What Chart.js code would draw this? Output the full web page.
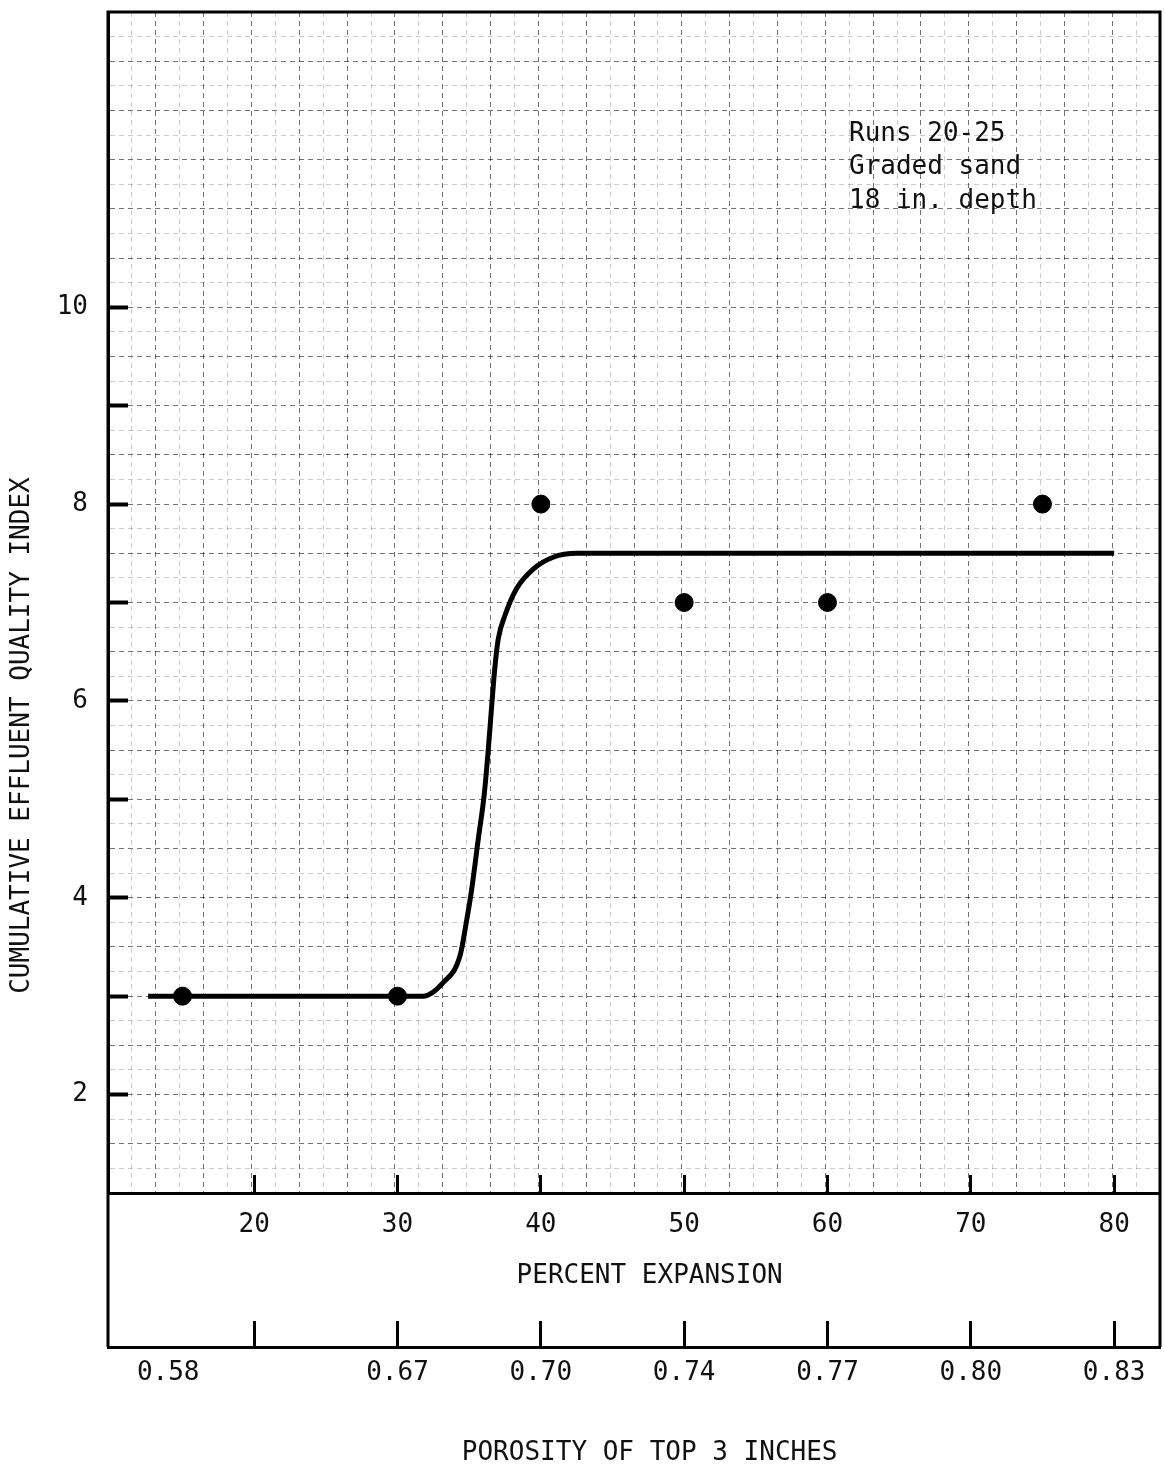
<!DOCTYPE html>
<html>
<head>
<meta charset="utf-8">
<script src="https://cdn.jsdelivr.net/npm/chart.js@4.4.1/dist/chart.umd.min.js"></script>
<style>
  html, body { margin: 0; padding: 0; background: #fff; overflow: hidden; }
  #wrap { width: 1165px; height: 1473px; position: relative; }
</style>
</head>
<body>
<div id="wrap"><canvas id="effluentChart"></canvas></div>
<script>
// measured points (percent expansion vs. quality index)
const pointX = [15, 30, 40, 50, 60, 75];
const pointY = [3, 3, 8, 7, 7, 8];

// hand-drawn fitted curve
const curveX = [12.6, 20, 30, 31.8, 33.2, 34.36, 34.8, 35.17, 35.63, 36.05, 36.33, 36.57, 36.8, 37.03, 37.5, 38.3, 39.47, 40.86, 42.5, 60, 80];
const curveY = [3.0, 3.0, 3.0, 3.0, 3.14, 3.41, 3.75, 4.08, 4.59, 5.05, 5.5, 5.95, 6.35, 6.63, 6.87, 7.14, 7.34, 7.46, 7.5, 7.5, 7.5];

// axis ticks
const pctTicks = [20, 30, 40, 50, 60, 70, 80];
const porosityAt = [14, 30, 40, 50, 60, 70, 80];
const porosityLabels = ["0.58", "0.67", "0.70", "0.74", "0.77", "0.80", "0.83"];
const yLabelTicks = [2, 4, 6, 8, 10];
const yTickMarks = [2, 3, 4, 5, 6, 7, 8, 9, 10];

const noteLines = ["Runs 20-25", "Graded sand", "18 in. depth"];

const FONT = '"DejaVu Sans Mono", "Liberation Mono", monospace';
Chart.defaults.font.family = FONT;
Chart.defaults.font.size = 26;
Chart.defaults.color = "#111";

const MAJOR = "rgba(0,0,0,0.55)";
const MINOR = "rgba(0,0,0,0.2)";

// axes here sit flush: drop the label overhang padding chart.js adds
function flush(s) {
    s.paddingTop = 0;
    s.paddingBottom = 0;
    s.paddingLeft = 0;
    s.paddingRight = 0;
}

// frame round the plot and the axis box, plus the note text
const framePlugin = {
    id: "frame",
    afterDraw(chart) {
        const { ctx, chartArea: a, scales } = chart;
        const boxBottom = scales.x2.top;
        ctx.save();
        ctx.strokeStyle = "#000";
        ctx.lineWidth = 3;
        ctx.beginPath();
        ctx.moveTo(a.left, boxBottom);
        ctx.lineTo(a.left, a.top);
        ctx.lineTo(a.right, a.top);
        ctx.lineTo(a.right, boxBottom);
        ctx.stroke();

        ctx.fillStyle = "#111";
        ctx.font = "26px " + FONT;
        ctx.textBaseline = "alphabetic";
        const tx = scales.x.getPixelForValue(61.5);
        const ty = scales.y.getPixelForValue(11.69);
        noteLines.forEach((t, i) => ctx.fillText(t, tx, ty + i * 33.5));
        ctx.restore();
    }
};

new Chart(document.getElementById("effluentChart"), {
    type: "scatter",
    data: {
        datasets: [{
            label: "Runs",
            data: pointX.map((x, i) => ({ x: x, y: pointY[i] })),
            pointRadius: 9,
            pointBackgroundColor: "#000",
            pointBorderColor: "#000",
            showLine: false
        }, {
            label: "Curve",
            data: curveX.map((x, i) => ({ x: x, y: curveY[i] })),
            showLine: true,
            borderColor: "#000",
            borderWidth: 5,
            pointRadius: 0,
            cubicInterpolationMode: "monotone",
            fill: false
        }]
    },
    options: {
        responsive: true,
        maintainAspectRatio: false,
        animation: false,
        layout: { autoPadding: false, padding: { left: 0, right: 5, top: 12, bottom: 0 } },
        plugins: {
            legend: { display: false },
            tooltip: { enabled: false }
        },
        scales: {
            x: {
                type: "linear",
                position: "bottom",
                min: 9.8,
                max: 83.2,
                afterBuildTicks: (s) => { s.ticks = pctTicks.map(v => ({ value: v })); },
                afterFit: (s) => { s.height = 154; flush(s); },
                ticks: { autoSkip: false, maxRotation: 0, padding: 35, color: "#111" },
                grid: { drawOnChartArea: false, tickLength: -18, tickWidth: 3, tickColor: "#000" },
                border: { display: true, color: "#000", width: 3 },
                title: {
                    display: true,
                    text: "  PERCENT EXPANSION",
                    color: "#111",
                    padding: { top: 0, bottom: 55 }
                }
            },
            x2: {
                type: "linear",
                position: "bottom",
                weight: 1,
                min: 9.8,
                max: 83.2,
                afterBuildTicks: (s) => { s.ticks = [14].concat(pctTicks).map(v => ({ value: v })); },
                afterFit: (s) => { s.height = 126; flush(s); },
                ticks: {
                    autoSkip: false,
                    maxRotation: 0,
                    padding: 37,
                    color: "#111",
                    callback: (v) => {
                        const i = porosityAt.indexOf(v);
                        return i >= 0 ? porosityLabels[i] : "";
                    }
                },
                grid: {
                    drawOnChartArea: false,
                    tickLength: -26,
                    tickWidth: 3,
                    tickColor: (c) => pctTicks.includes(c.tick && c.tick.value) ? "#000" : "rgba(0,0,0,0)"
                },
                border: { display: true, color: "#000", width: 3 },
                title: {
                    display: true,
                    text: "  POROSITY OF TOP 3 INCHES",
                    color: "#111",
                    padding: { top: 0, bottom: 4 }
                }
            },
            // graph paper verticals (own scale, squares of the sheet)
            paper: {
                type: "linear",
                position: "top",
                min: 0,
                max: 22,
                afterFit: (s) => { s.height = 0; flush(s); },
                ticks: { display: false, stepSize: 0.5, autoSkip: false },
                grid: {
                    drawTicks: false,
                    lineWidth: 1,
                    color: (c) => Number.isInteger(c.tick.value) ? MAJOR : MINOR
                },
                border: { display: false, dash: [5, 4] }
            },
            y: {
                type: "linear",
                position: "left",
                min: 1,
                max: 13,
                afterFit: (s) => { s.width = 108; flush(s); },
                ticks: {
                    stepSize: 0.25,
                    autoSkip: false,
                    padding: 40,
                    color: "#111",
                    callback: (v) => yLabelTicks.includes(v) ? String(v) : ""
                },
                grid: {
                    lineWidth: 1,
                    color: (c) => Number.isInteger(c.tick.value * 2) ? MAJOR : MINOR,
                    tickLength: -20,
                    tickWidth: 4,
                    tickColor: (c) => yTickMarks.includes(c.tick && c.tick.value) ? "#000" : "rgba(0,0,0,0)"
                },
                border: { display: true, color: "#000", width: 3, dash: [5, 4] },
                title: {
                    display: true,
                    text: "CUMULATIVE EFFLUENT QUALITY INDEX                 ",
                    color: "#111",
                    padding: { top: 7, bottom: 0 }
                }
            }
        }
    },
    plugins: [framePlugin]
});
</script>
</body>
</html>
